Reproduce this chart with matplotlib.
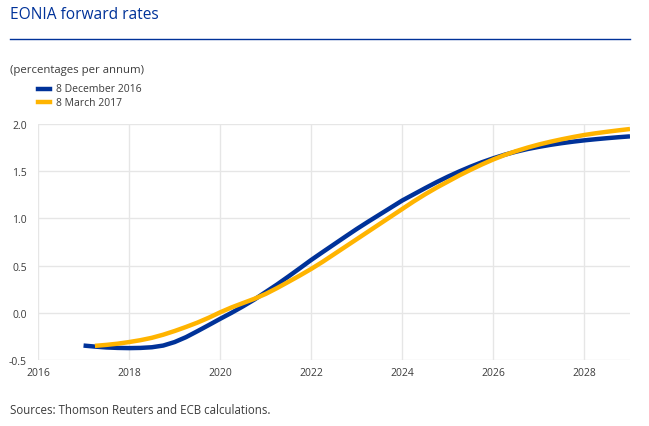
import matplotlib
matplotlib.use("Agg")
import matplotlib.pyplot as plt

# Data (quarterly)
dec_years = [2017.00, 2017.25, 2017.50, 2017.75, 2018.00, 2018.25, 2018.50, 2018.75,
             2019.00, 2019.25, 2019.50, 2019.75, 2020.00, 2020.25, 2020.50, 2020.75,
             2021.00, 2021.25, 2021.50, 2021.75, 2022.00, 2022.25, 2022.50, 2022.75,
             2023.00, 2023.25, 2023.50, 2023.75, 2024.00, 2024.25, 2024.50, 2024.75,
             2025.00, 2025.25, 2025.50, 2025.75, 2026.00, 2026.25, 2026.50, 2026.75,
             2027.00, 2027.25, 2027.50, 2027.75, 2028.00, 2028.25, 2028.50, 2028.75,
             2029.00]
dec_rates = [-0.347, -0.358, -0.367, -0.372, -0.374, -0.372, -0.365, -0.347,
             -0.310, -0.258, -0.195, -0.130, -0.064, 0.000, 0.068, 0.140,
             0.220, 0.300, 0.385, 0.472, 0.560, 0.643, 0.725, 0.807,
             0.888, 0.965, 1.040, 1.115, 1.190, 1.255, 1.320, 1.383,
             1.442, 1.497, 1.548, 1.595, 1.637, 1.675, 1.707, 1.735,
             1.758, 1.779, 1.797, 1.813, 1.827, 1.839, 1.850, 1.860,
             1.869]
mar_years = [2017.25, 2017.50, 2017.75, 2018.00, 2018.25, 2018.50, 2018.75,
             2019.00, 2019.25, 2019.50, 2019.75, 2020.00, 2020.25, 2020.50, 2020.75,
             2021.00, 2021.25, 2021.50, 2021.75, 2022.00, 2022.25, 2022.50, 2022.75,
             2023.00, 2023.25, 2023.50, 2023.75, 2024.00, 2024.25, 2024.50, 2024.75,
             2025.00, 2025.25, 2025.50, 2025.75, 2026.00, 2026.25, 2026.50, 2026.75,
             2027.00, 2027.25, 2027.50, 2027.75, 2028.00, 2028.25, 2028.50, 2028.75,
             2029.00]
mar_rates = [-0.350, -0.340, -0.327, -0.310, -0.290, -0.265, -0.232,
             -0.193, -0.150, -0.104, -0.052, 0.005, 0.057, 0.103, 0.148,
             0.200, 0.262, 0.328, 0.395, 0.465, 0.540, 0.620, 0.700,
             0.780, 0.860, 0.940, 1.020, 1.100, 1.180, 1.255, 1.325,
             1.390, 1.455, 1.515, 1.572, 1.625, 1.672, 1.713, 1.750,
             1.783, 1.812, 1.838, 1.862, 1.884, 1.902, 1.918, 1.933,
             1.947]
series_labels = ["8 December 2016", "8 March 2017"]
x_ticks = [2016, 2018, 2020, 2022, 2024, 2026, 2028]
y_ticks = [-0.5, 0.0, 0.5, 1.0, 1.5, 2.0]

BLUE = "#003299"
YELLOW = "#FFB400"
TXT = "#3c3c3c"

plt.rcParams['font.family'] = ['Open Sans', 'DejaVu Sans']

W, H = 649, 427
fig = plt.figure(figsize=(W / 100, H / 100), dpi=100)
ax = fig.add_axes([38 / W, 1 - 361 / H, (630 - 38) / W, (361 - 125) / H])

ax.plot(dec_years, dec_rates, color=BLUE, lw=3.2, solid_capstyle='butt',
        solid_joinstyle='round', zorder=3)
ax.plot(mar_years, mar_rates, color=YELLOW, lw=3.2, solid_capstyle='butt',
        solid_joinstyle='round', zorder=4)

ax.set_xlim(2016, 2029)
ax.set_ylim(-0.5, 2.0)
ax.set_xticks(x_ticks)
ax.set_xticklabels([str(t) for t in x_ticks])
ax.set_yticks(y_ticks)
ax.set_yticklabels([f"{t:.1f}" for t in y_ticks])
ax.grid(True, color="#e6e6e6", lw=1.0, zorder=0)
for s in ax.spines.values():
    s.set_visible(False)
ax.tick_params(length=0, labelsize=7.5, colors=TXT)
ax.tick_params(axis='x', pad=5)
ax.tick_params(axis='y', pad=8)

# Title and header
fig.text(10 / W, 1 - 15 / H, "EONIA forward rates", color=BLUE, fontsize=11.2,
         va='center', ha='left')
fig.add_artist(plt.Line2D([10 / W, 630 / W], [1 - 40 / H, 1 - 40 / H], color=BLUE, lw=1.0))
fig.text(10 / W, 1 - 70 / H, "(percentages per annum)", color=TXT, fontsize=8.2,
         va='center', ha='left')

# Legend
for i, (lab, col) in enumerate(zip(series_labels, [BLUE, YELLOW])):
    yy = 1 - (90 + 13 * i) / H
    fig.add_artist(plt.Line2D([38 / W, 50 / W], [yy, yy], color=col, lw=3.2))
    fig.text(56 / W, yy, lab, color=TXT, fontsize=7.5, va='center', ha='left')

fig.text(10 / W, 1 - 411 / H, "Sources: Thomson Reuters and ECB calculations.", color=TXT,
         fontsize=8.3, va='center', ha='left')

fig.savefig("out.png", dpi=100)
